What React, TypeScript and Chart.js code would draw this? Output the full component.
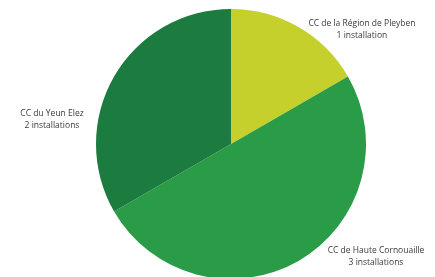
import React, { useEffect, useRef } from "react";
import { Chart, registerables } from "chart.js";

Chart.register(...registerables);

const categories = ["CC de la Région de Pleyben", "CC de Haute Cornouaille", "CC du Yeun Elez"];
const installations = [1, 3, 2];
const valueLabels = ["1 installation", "3 installations", "2 installations"];
const colors = ["#c5d02c", "#2a9b46", "#1c7b3e"];

// label anchor offsets relative to pie center, in units of radius
const labelAnchors = [
  { dx: 0.97, dy: -0.844 },
  { dx: 1.074, dy: 0.837 },
  { dx: -1.326, dy: -0.178 },
];

const labelPlugin = {
  id: "sliceLabels",
  afterDraw(chart: any) {
    const ctx = chart.ctx;
    const meta = chart.getDatasetMeta(0);
    ctx.save();
    ctx.font = "8.5px 'Open Sans', sans-serif";
    ctx.fillStyle = "#3a3a3a";
    ctx.textAlign = "center";
    ctx.textBaseline = "middle";
    meta.data.forEach((arc: any, i: number) => {
      const { x, y, outerRadius } = arc.getProps(["x", "y", "outerRadius"], true);
      const lx = x + labelAnchors[i].dx * outerRadius;
      const ly = y + labelAnchors[i].dy * outerRadius;
      ctx.fillText(categories[i], lx, ly - 6);
      ctx.fillText(valueLabels[i], lx, ly + 6);
    });
    ctx.restore();
  },
};

export default function App() {
  const ref = useRef<HTMLCanvasElement>(null);
  useEffect(() => {
    document.body.style.margin = "0";
    const chart = new Chart(ref.current!, {
      type: "pie",
      data: {
        labels: categories,
        datasets: [
          {
            data: installations,
            backgroundColor: colors,
            borderWidth: 0,
          },
        ],
      },
      options: {
        responsive: false,
        animation: false,
        layout: { padding: { left: 96, right: 69, top: 9, bottom: 21 } },
        plugins: {
          legend: { display: false },
          tooltip: { enabled: false },
        },
      },
      plugins: [labelPlugin],
    });
    return () => chart.destroy();
  }, []);
  return (
    <div style={{ width: 435, height: 277, overflow: "hidden", background: "#fff" }}>
      <canvas ref={ref} width={435} height={300} style={{ display: "block" }} />
    </div>
  );
}
